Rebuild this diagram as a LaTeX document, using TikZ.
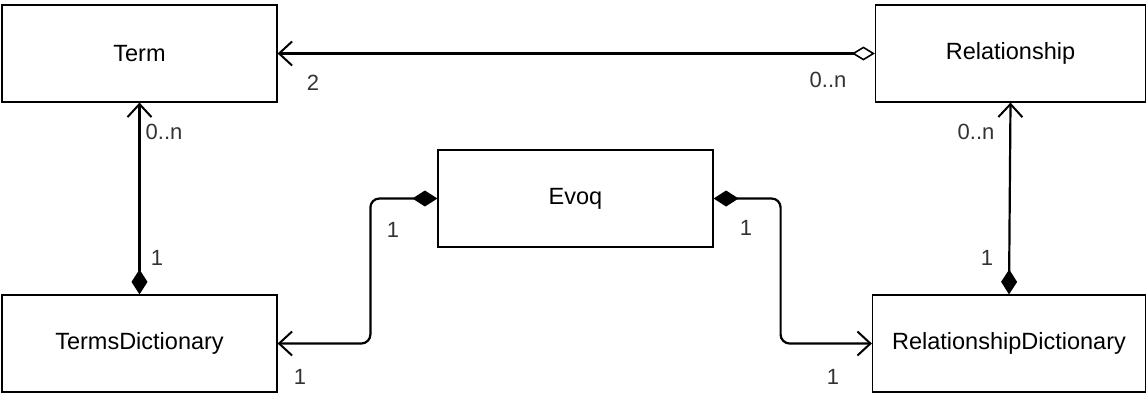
\documentclass[tikz,border=0pt]{standalone}
\usepackage{fontspec}
\setmainfont{Liberation Sans}
\usetikzlibrary{arrows.meta}
\begin{document}
\begin{tikzpicture}[x=1pt,y=-1pt,
  box/.style={draw, line width=1.2pt, minimum width=275pt, minimum height=97pt, inner sep=0pt, font=\fontsize{23.5}{26}\selectfont},
  conn/.style={line width=2.2pt, draw=black},
  lbl/.style={font=\fontsize{22}{24}\selectfont, text=black!80, inner sep=0pt},
  comp/.style={{Diamond[length=25pt,width=16pt]}-{Straight Barb[length=13pt,width=24pt,line width=2pt]}},
  aggr/.style={{Diamond[open,length=23pt,width=14pt,line width=1.6pt]}-{Straight Barb[length=13pt,width=24pt,line width=2pt]}}
]
\useasboundingbox (0,0) rectangle (1148,394);
\node[box] (term) at (139.5,53.5) {Term};
\node[box, minimum width=270pt] (rel) at (1010.5,53.5) {Relationship};
\node[box] (evoq) at (575.5,198.5) {Evoq};
\node[box] (td) at (139.5,343.5) {TermsDictionary};
\node[box, minimum width=273pt] (rd) at (1009,343.5) {RelationshipDictionary};

\draw[conn, aggr] (rel.west) -- (term.east);
\draw[conn, comp] (td.north) -- (term.south);
\draw[conn, comp] (rd.north) -- (rel.south);
\draw[conn, comp, rounded corners=9pt] (evoq.west) -- ++(-67,0) |- (td.east);
\draw[conn, comp, rounded corners=9pt] (evoq.east) -- ++(67,0) |- (rd.east -| rd.west);

\node[lbl] (l1) at (313,83) {2};
\node[lbl] (l2) at (828,80) {0..n};
\node[lbl] (l3) at (164,132) {0..n};
\node[lbl] (l4) at (157,258) {1};
\node[lbl] (l5) at (976,132) {0..n};
\node[lbl] (l6) at (987,258) {1};
\node[lbl] (l7) at (393,230) {1};
\node[lbl] (l8) at (300,377) {1};
\node[lbl] (l9) at (746,228) {1};
\node[lbl] (l10) at (833,377) {1};
\end{tikzpicture}
\end{document}
